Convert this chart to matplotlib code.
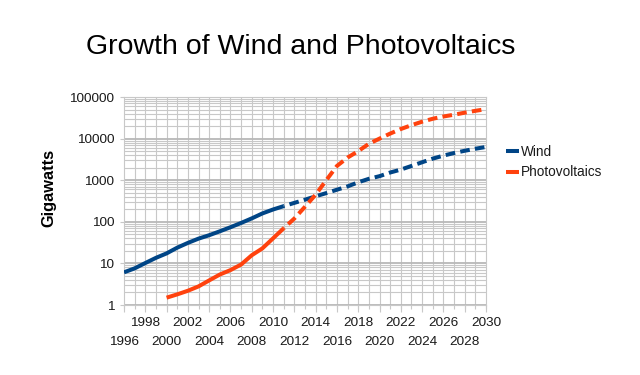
import numpy as np
import matplotlib
matplotlib.use("Agg")
import matplotlib.pyplot as plt
from matplotlib.ticker import FixedLocator, LogLocator, NullFormatter

plt.rcParams['font.family'] = ['Liberation Sans', 'DejaVu Sans']

# historical (solid) and projected (dashed) capacity, gigawatts
wind_years = list(range(1996, 2012))
wind_hist = [6.1, 7.6, 10.2, 13.6, 17.4, 23.9, 31.1, 39.4, 47.6, 59.1,
             74.0, 93.9, 120.8, 159.0, 197.6, 238]
pv_years = list(range(2000, 2012))
pv_hist = [1.5, 1.8, 2.2, 2.8, 3.9, 5.4, 6.9, 9.4, 15.7, 23.0, 40.0, 70]

proj_years = list(range(2011, 2031))
wind_proj = [238, 285, 340, 410, 490, 590, 710, 890, 1080, 1250,
             1530, 1800, 2200, 2700, 3300, 3900, 4500, 5100, 5700, 6300]
pv_proj = [70, 120, 230, 450, 1000, 2200, 3500, 5000, 7500, 10000,
           13200, 17000, 21000, 25500, 30000, 34000, 37500, 42000, 46500, 51000]

upper_years = list(range(1998, 2031, 4))
lower_years = list(range(1996, 2031, 4))

wind_col = '#004586'
pv_col = '#ff420e'
grid_col = '#c8c8c8'
txt_col = '#1a1a1a'

fig = plt.figure(figsize=(6.4, 3.75), dpi=100)
ax = fig.add_axes([124/640, 1-305/375, (486-124)/640, (305-97)/375])

lw = 2.9
ax.plot(wind_years, wind_hist, color=wind_col, lw=lw, solid_capstyle='butt', label='Wind', zorder=3)
ax.plot(pv_years, pv_hist, color=pv_col, lw=lw, solid_capstyle='butt', label='Photovoltaics', zorder=3)
ax.plot(proj_years, wind_proj, color=wind_col, lw=lw, linestyle=(2.2, (2.4, 1.3)),
        dash_capstyle='butt', zorder=3)
ax.plot(proj_years, pv_proj, color=pv_col, lw=lw, linestyle=(2.2, (2.4, 1.3)),
        dash_capstyle='butt', zorder=3)

ax.set_yscale('log')
ax.set_ylim(1, 100000)
ax.set_xlim(1996, 2030)

ax.yaxis.set_minor_locator(LogLocator(base=10, subs=np.arange(2, 10), numticks=20))
ax.yaxis.set_minor_formatter(NullFormatter())
ax.set_yticks([1, 10, 100, 1000, 10000, 100000])
ax.set_yticklabels(['1', '10', '100', '1000', '10000', '100000'])

# two rows of year labels: upper row as major ticks, lower row as minor ticks
ax.xaxis.set_major_locator(FixedLocator(upper_years))
ax.xaxis.set_minor_locator(FixedLocator(lower_years))
ax.set_xticks(upper_years)
ax.set_xticklabels([str(y) for y in upper_years])
ax.set_xticks(lower_years, minor=True)
ax.set_xticklabels([str(y) for y in lower_years], minor=True)

ax.grid(True, which='major', axis='y', color='#b8b8b8', lw=1.3)
ax.grid(True, which='minor', axis='y', color=grid_col, lw=0.8)
for yr in range(1997, 2030):
    ax.axvline(yr, color=grid_col, lw=0.8, zorder=0.5)
ax.set_axisbelow(True)

for s in ax.spines.values():
    s.set_color(grid_col)
    s.set_linewidth(0.8)

ax.tick_params(axis='x', which='both', labelsize=9.7, colors=grid_col, labelcolor=txt_col,
               length=5, width=0.8)
ax.tick_params(axis='x', which='major', pad=3.5)
ax.tick_params(axis='x', which='minor', pad=17)
ax.tick_params(axis='y', which='major', labelsize=9.7, colors=grid_col, labelcolor=txt_col,
               length=3, width=0.8, pad=4)
ax.tick_params(axis='y', which='minor', length=0)

# small tick marks at every year
sec = ax.secondary_xaxis('bottom')
sec.set_xticks(list(range(1996, 2031)))
sec.set_xticklabels([])
sec.tick_params(length=3, width=0.8, color=grid_col)
sec.spines['bottom'].set_visible(False)

fig.text(301/640, 1-47/375, 'Growth of Wind and Photovoltaics', fontsize=20.5,
         ha='center', va='center', color='black')
fig.text(49/640, 1-188/375, 'Gigawatts', fontsize=11.8, fontweight='bold',
         rotation=90, ha='center', va='center', color='black')

leg = fig.legend(loc='center left', bbox_to_anchor=(506/640, 1-162/375),
                 frameon=False, fontsize=9.8, handlelength=0.95, handletextpad=0.15,
                 labelspacing=0.5, borderpad=0, borderaxespad=0)
for t in leg.get_texts():
    t.set_color(txt_col)

fig.savefig('out.png', dpi=100)
